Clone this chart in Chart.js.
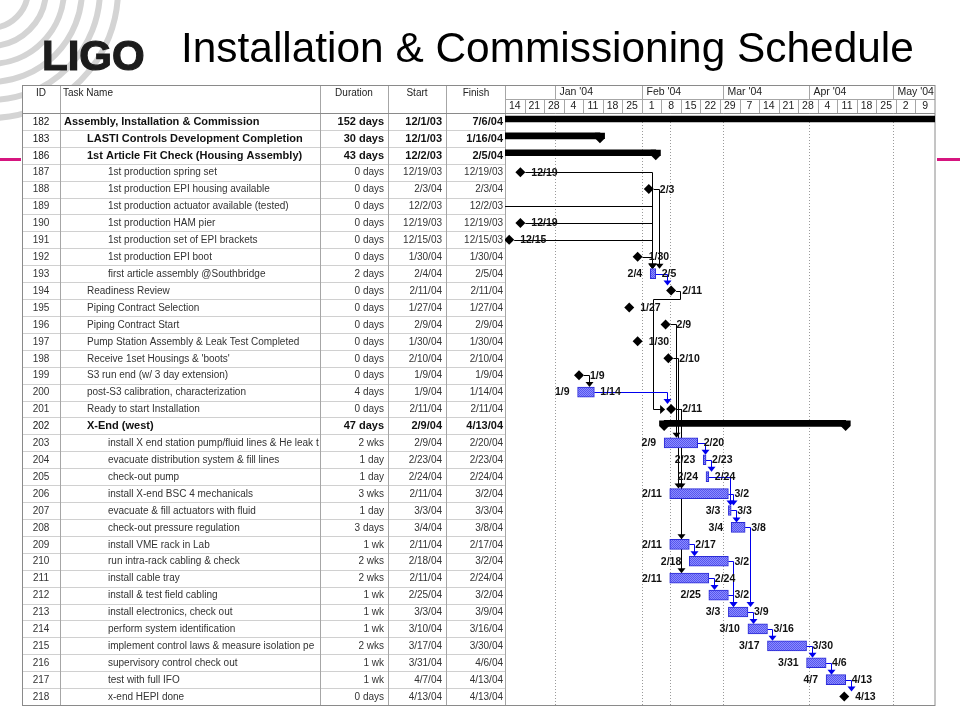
<!DOCTYPE html>
<html>
<head>
<meta charset="utf-8">
<title>Installation & Commissioning Schedule</title>
<script src="https://cdn.jsdelivr.net/npm/chart.js@4.4.1/dist/chart.umd.min.js"></script>
<style>
  html, body { margin: 0; padding: 0; background: #fff; }
  #gantt { display: block; }
</style>
</head>
<body>
<canvas id="gantt" width="960" height="720"></canvas>
<script>
// schedule rows, as listed in the MS Project table
const taskIds = ['182', '183', '186', '187', '188', '189', '190', '191', '192', '193', '194', '195',
    '196', '197', '198', '199', '200', '201', '202', '203', '204', '205', '206', '207', '208', '209',
    '210', '211', '212', '213', '214', '215', '216', '217', '218'];

const taskNames = [
    'Assembly, Installation & Commission',
    'LASTI Controls Development Completion',
    '1st Article Fit Check (Housing Assembly)',
    '1st production spring set',
    '1st production EPI housing available',
    '1st production actuator available (tested)',
    '1st production HAM pier',
    '1st production set of EPI brackets',
    '1st production EPI boot',
    'first article assembly @Southbridge',
    'Readiness Review',
    'Piping Contract Selection',
    'Piping Contract Start',
    'Pump Station Assembly & Leak Test Completed',
    "Receive 1set Housings & 'boots'",
    'S3 run end (w/ 3 day extension)',
    'post-S3 calibration, characterization',
    'Ready to start Installation',
    'X-End (west)',
    'install X end station pump/fluid lines & He leak t',
    'evacuate distribution system & fill lines',
    'check-out pump',
    'install X-end BSC 4 mechanicals',
    'evacuate & fill actuators with fluid',
    'check-out pressure regulation',
    'install VME rack in Lab',
    'run intra-rack cabling & check',
    'install cable tray',
    'install & test field cabling',
    'install electronics, check out',
    'perform system identification',
    'implement control laws & measure isolation pe',
    'supervisory control check out',
    'test with full IFO',
    'x-end HEPI done'
];

const taskLevels = [0, 1, 1, 2, 2, 2, 2, 2, 2, 2, 1, 1, 1, 1, 1, 1, 1, 1, 1,
    2, 2, 2, 2, 2, 2, 2, 2, 2, 2, 2, 2, 2, 2, 2, 2];

const summaryRows = ['182', '183', '186', '202'];

const durations = ['152 days', '30 days', '43 days', '0 days', '0 days', '0 days', '0 days', '0 days',
    '0 days', '2 days', '0 days', '0 days', '0 days', '0 days', '0 days', '0 days', '4 days', '0 days',
    '47 days', '2 wks', '1 day', '1 day', '3 wks', '1 day', '3 days', '1 wk', '2 wks', '2 wks', '1 wk',
    '1 wk', '1 wk', '2 wks', '1 wk', '1 wk', '0 days'];

const starts = ['12/1/03', '12/1/03', '12/2/03', '12/19/03', '2/3/04', '12/2/03', '12/19/03', '12/15/03',
    '1/30/04', '2/4/04', '2/11/04', '1/27/04', '2/9/04', '1/30/04', '2/10/04', '1/9/04', '1/9/04',
    '2/11/04', '2/9/04', '2/9/04', '2/23/04', '2/24/04', '2/11/04', '3/3/04', '3/4/04', '2/11/04',
    '2/18/04', '2/11/04', '2/25/04', '3/3/04', '3/10/04', '3/17/04', '3/31/04', '4/7/04', '4/13/04'];

const finishes = ['7/6/04', '1/16/04', '2/5/04', '12/19/03', '2/3/04', '12/2/03', '12/19/03', '12/15/03',
    '1/30/04', '2/5/04', '2/11/04', '1/27/04', '2/9/04', '1/30/04', '2/10/04', '1/9/04', '1/14/04',
    '2/11/04', '4/13/04', '2/20/04', '2/23/04', '2/24/04', '3/2/04', '3/3/04', '3/8/04', '2/17/04',
    '3/2/04', '2/24/04', '3/2/04', '3/9/04', '3/16/04', '3/30/04', '4/6/04', '4/13/04', '4/13/04'];

// predecessor -> successor (third item = link drawn around the row)
const links = [
    ['187', '193'], ['188', '193'], ['189', '193'], ['190', '193'], ['191', '193'], ['192', '193'],
    ['193', '194'], ['194', '201', 1], ['196', '203'], ['198', '206'], ['199', '200'], ['200', '201'],
    ['201', '206'], ['201', '209'], ['201', '211'], ['203', '204'], ['204', '205'], ['205', '207'],
    ['206', '207'], ['207', '208'], ['208', '213'], ['209', '210'], ['210', '213'], ['211', '212'],
    ['212', '213'], ['213', '214'], ['214', '215'], ['215', '216'], ['216', '217'], ['217', '218']
];

// timescale
const timelineStart = '12/14/03';
const timelineEnd = '5/16/04';
const statusDate = '2/11/04';
const monthLabels = ["Jan '04", "Feb '04", "Mar '04", "Apr '04", "May '04"];
const monthStarts = ['1/1/04', '2/1/04', '3/1/04', '4/1/04', '5/1/04'];
const weekLabels = ['14', '21', '28', '4', '11', '18', '25', '1', '8', '15', '22', '29', '7', '14',
    '21', '28', '4', '11', '18', '25', '2', '9'];

const FONT = '"Liberation Sans", Arial, sans-serif';

function parseDate(s) {
    const [m, d, y] = s.split('/').map(Number);
    return Date.UTC(2000 + y, m - 1, d) / 86400000;
}
const ORIGIN = parseDate(timelineStart);
const dayOf = s => parseDate(s) - ORIGIN;
const shortDate = s => s.split('/').slice(0, 2).join('/');
const isSummary = i => summaryRows.includes(taskIds[i]);
const isMilestone = i => durations[i] === '0 days';
const milestoneX = i => dayOf(finishes[i]) + 0.5;

const summaryData = taskIds.map((id, i) => isSummary(i) ? [dayOf(starts[i]), dayOf(finishes[i]) + 1] : null);
const taskData = taskIds.map((id, i) => (!isSummary(i) && !isMilestone(i)) ? [dayOf(starts[i]), dayOf(finishes[i]) + 1] : null);
const milestoneData = taskIds.map((id, i) => isMilestone(i) ? { x: milestoneX(i), y: id } : null).filter(p => p);

const canvas = document.getElementById('gantt');
const ctx = canvas.getContext('2d');

function makeHatch() {
    const c = document.createElement('canvas');
    c.width = 2; c.height = 2;
    const g = c.getContext('2d');
    g.fillStyle = '#8c8cff';
    g.fillRect(0, 0, 2, 2);
    g.fillStyle = '#5656ee';
    g.fillRect(0, 0, 1, 1);
    g.fillRect(1, 1, 1, 1);
    return ctx.createPattern(c, 'repeat');
}

const crisp = v => Math.round(v) + 0.5;

function line(c, x1, y1, x2, y2) {
    c.beginPath();
    c.moveTo(x1, y1);
    c.lineTo(x2, y2);
    c.stroke();
}

function drawLogo(c) {
    c.save();
    c.strokeStyle = '#d4d4d4';
    c.lineWidth = 6;
    [38, 56, 74, 92, 110, 128].forEach(r => {
        c.beginPath();
        c.arc(-10, -10, r, 0, Math.PI / 2);
        c.stroke();
    });
    c.fillStyle = '#1c1c1c';
    c.strokeStyle = '#1c1c1c';
    c.lineWidth = 1.2;
    c.font = 'bold 42px ' + FONT;
    c.textBaseline = 'alphabetic';
    c.fillText('LIGO', 42, 70);
    c.strokeText('LIGO', 42, 70);
    c.restore();

    c.fillStyle = '#000';
    c.font = '42.4px ' + FONT;
    c.fillText('Installation & Commissioning Schedule', 181, 62);

    c.fillStyle = '#d6157f';
    c.fillRect(0, 158, 21, 3);
    c.fillRect(937, 158, 23, 3);
}

function drawTable(c, a, yScale) {
    const rowH = yScale.getPixelForValue(1) - yScale.getPixelForValue(0);
    const cols = [60, 320, 388, 446];
    c.fillStyle = '#fff';
    c.fillRect(22, 85, a.right - 22, a.bottom - 85);

    c.lineWidth = 1;
    c.strokeStyle = '#d0d0d0';
    for (let i = 1; i < taskIds.length; i++) {
        const yy = crisp(yScale.getPixelForValue(i) - rowH / 2);
        line(c, 22, yy, a.left, yy);
    }
    c.strokeStyle = '#a6a6a6';
    cols.forEach(cx => line(c, crisp(cx), 85, crisp(cx), a.bottom));
    line(c, crisp(a.left), 85, crisp(a.left), a.bottom);
    c.strokeStyle = '#8a8a8a';
    line(c, 22, crisp(a.top), a.right, crisp(a.top));

    // header
    c.fillStyle = '#222';
    c.font = '10px ' + FONT;
    c.textBaseline = 'top';
    c.textAlign = 'center';
    c.fillText('ID', 41, 88);
    c.fillText('Duration', 354, 88);
    c.fillText('Start', 417, 88);
    c.fillText('Finish', 476, 88);
    c.textAlign = 'left';
    c.fillText('Task Name', 63, 88);

    // rows
    c.textBaseline = 'middle';
    taskIds.forEach((id, i) => {
        const yc = yScale.getPixelForValue(i) + 0.5;
        const bold = isSummary(i);
        c.fillStyle = bold ? '#111' : '#333';
        c.font = '10px ' + FONT;
        c.textAlign = 'center';
        c.fillText(id, 41, yc);
        c.font = bold ? 'bold 11px ' + FONT : '10px ' + FONT;
        c.save();
        c.beginPath();
        c.rect(61, yc - 9, 258, 18);
        c.clip();
        c.textAlign = 'left';
        c.fillText(taskNames[i], [64, 87, 108][taskLevels[i]], yc);
        c.restore();
        c.textAlign = 'right';
        c.fillText(durations[i], 384, yc);
        c.fillText(starts[i], 442, yc);
        c.fillText(finishes[i], 503, yc);
    });
}

function drawTimescale(c, a, xScale) {
    c.strokeStyle = '#a6a6a6';
    c.lineWidth = 1;
    line(c, a.left, 99.5, a.right, 99.5);
    c.fillStyle = '#222';
    c.font = '10.5px ' + FONT;
    c.textBaseline = 'middle';
    c.textAlign = 'left';
    monthStarts.forEach((d, i) => {
        const px = crisp(xScale.getPixelForValue(dayOf(d)));
        line(c, px, 85, px, 99);
        c.fillText(monthLabels[i], px + 4, 92.5);
    });
    c.textAlign = 'center';
    weekLabels.forEach((w, i) => {
        const px = crisp(xScale.getPixelForValue(i * 7));
        if (i > 0) line(c, px, 99, px, a.top);
        c.fillText(w, xScale.getPixelForValue(i * 7 + 3.5), 106.5);
    });
}

function drawGrid(c, a, xScale) {
    c.save();
    c.strokeStyle = '#9a9a9a';
    c.lineWidth = 1;
    c.setLineDash([1, 2]);
    monthStarts.concat([statusDate]).forEach(d => {
        const px = crisp(xScale.getPixelForValue(dayOf(d)));
        line(c, px, a.top, px, a.bottom);
    });
    c.restore();
}

function rowGeom(chart, i) {
    const { x, y } = chart.scales;
    const yc = y.getPixelForValue(i);
    if (isMilestone(i)) {
        const mx = x.getPixelForValue(milestoneX(i));
        return { yc, milestone: true, x0: mx - 5, x1: mx + 5, mx };
    }
    return {
        yc, milestone: false,
        x0: x.getPixelForValue(dayOf(starts[i])),
        x1: x.getPixelForValue(dayOf(finishes[i]) + 1)
    };
}

function drawLinks(chart) {
    const c = chart.ctx;
    const a = chart.chartArea;
    const rowH = chart.scales.y.getPixelForValue(1) - chart.scales.y.getPixelForValue(0);
    c.save();
    c.beginPath();
    c.rect(a.left, a.top, a.right - a.left, a.bottom - a.top);
    c.clip();
    c.lineWidth = 1;
    links.forEach(([from, to, around]) => {
        const pi = taskIds.indexOf(from);
        const si = taskIds.indexOf(to);
        const p = rowGeom(chart, pi);
        const s = rowGeom(chart, si);
        const col = p.milestone ? '#000' : '#0000ee';
        c.strokeStyle = col;
        c.fillStyle = col;
        const py = crisp(p.yc);
        c.beginPath();
        if (!around) {
            const xv = crisp(Math.max(s.milestone ? s.mx - 4 : s.x0 + 2, p.x1 + 5));
            const tip = s.yc - 5;
            c.moveTo(p.x1, py);
            c.lineTo(xv, py);
            c.lineTo(xv, tip - 4);
            c.stroke();
            c.beginPath();
            c.moveTo(xv - 4, tip - 5);
            c.lineTo(xv + 4, tip - 5);
            c.lineTo(xv, tip);
            c.closePath();
            c.fill();
        } else {
            const x1 = crisp(p.x1 + 4);
            const yMid = crisp(p.yc + rowH / 2);
            const tipX = s.x0 - 1;
            const x2 = crisp(tipX - 12);
            const sy = crisp(s.yc);
            c.moveTo(p.x1, py);
            c.lineTo(x1, py);
            c.lineTo(x1, yMid);
            c.lineTo(x2, yMid);
            c.lineTo(x2, sy);
            c.lineTo(tipX - 4, sy);
            c.stroke();
            c.beginPath();
            c.moveTo(tipX - 5, sy - 4.5);
            c.lineTo(tipX - 5, sy + 4.5);
            c.lineTo(tipX, sy);
            c.closePath();
            c.fill();
        }
    });
    c.restore();
}

function drawSummaryCaps(chart) {
    const c = chart.ctx;
    const a = chart.chartArea;
    const { x } = chart.scales;
    c.save();
    c.beginPath();
    c.rect(a.left, a.top, a.right - a.left, a.bottom - a.top);
    c.clip();
    c.fillStyle = '#000';
    taskIds.forEach((id, i) => {
        if (!isSummary(i)) return;
        const g = rowGeom(chart, i);
        const top = g.yc - 5.5;
        [x.getPixelForValue(dayOf(starts[i])), x.getPixelForValue(dayOf(finishes[i]) + 1)].forEach(px => {
            c.beginPath();
            c.moveTo(px - 5, top);
            c.lineTo(px + 5, top);
            c.lineTo(px + 5, g.yc);
            c.lineTo(px, g.yc + 5);
            c.lineTo(px - 5, g.yc);
            c.closePath();
            c.fill();
        });
    });
    c.restore();
}

function drawDateLabels(chart) {
    const c = chart.ctx;
    const a = chart.chartArea;
    c.save();
    c.beginPath();
    c.rect(a.left, a.top, a.right - a.left, a.bottom - a.top);
    c.clip();
    c.fillStyle = '#111';
    c.font = 'bold 10.5px ' + FONT;
    c.textBaseline = 'middle';
    taskIds.forEach((id, i) => {
        if (isSummary(i)) return;
        const g = rowGeom(chart, i);
        const yc = g.yc + 0.5;
        if (g.milestone) {
            c.textAlign = 'left';
            c.fillText(shortDate(finishes[i]), g.mx + 11, yc);
        } else {
            c.textAlign = 'right';
            c.fillText(shortDate(starts[i]), g.x0 - 8, yc);
            c.textAlign = 'left';
            c.fillText(shortDate(finishes[i]), g.x1 + 6, yc);
        }
    });
    c.restore();
}

const ganttFrame = {
    id: 'ganttFrame',
    beforeDraw(chart) {
        const c = chart.ctx;
        const a = chart.chartArea;
        c.save();
        c.fillStyle = '#fff';
        c.fillRect(0, 0, chart.width, chart.height);
        drawLogo(c);
        drawTable(c, a, chart.scales.y);
        drawTimescale(c, a, chart.scales.x);
        drawGrid(c, a, chart.scales.x);
        c.strokeStyle = '#8a8a8a';
        c.lineWidth = 1;
        c.strokeRect(22.5, 85.5, a.right - 22.5, a.bottom - 85);
        c.restore();
    },
    beforeDatasetsDraw(chart) {
        drawLinks(chart);
    },
    beforeDatasetDraw(chart, args) {
        if (args.index === 0) {
            chart.ctx.save();
            chart.ctx.translate(0, -2.5);
        }
    },
    afterDatasetDraw(chart, args) {
        if (args.index === 0) {
            chart.ctx.restore();
        }
    },
    afterDatasetsDraw(chart) {
        drawSummaryCaps(chart);
        drawDateLabels(chart);
    }
};

new Chart(ctx, {
    type: 'bar',
    data: {
        labels: taskIds,
        datasets: [
            {
                label: 'Summary',
                data: summaryData,
                backgroundColor: '#000',
                barThickness: 6,
                grouped: false
            },
            {
                label: 'Task',
                data: taskData,
                backgroundColor: makeHatch(),
                borderColor: '#2b2bd6',
                borderWidth: 1,
                borderSkipped: false,
                barThickness: 10,
                grouped: false
            },
            {
                label: 'Milestone',
                type: 'line',
                indexAxis: 'y',
                data: milestoneData,
                showLine: false,
                pointStyle: 'rectRot',
                pointRadius: 5,
                pointBackgroundColor: '#000',
                pointBorderColor: '#000',
                pointBorderWidth: 0
            }
        ]
    },
    options: {
        indexAxis: 'y',
        responsive: false,
        animation: false,
        events: [],
        layout: { padding: { left: 505, right: 25, top: 113, bottom: 15 } },
        plugins: {
            legend: { display: false },
            tooltip: { enabled: false }
        },
        scales: {
            x: { type: 'linear', min: 0, max: dayOf(timelineEnd), display: false },
            y: { type: 'category', display: false, offset: true }
        }
    },
    plugins: [ganttFrame]
});
</script>
</body>
</html>
